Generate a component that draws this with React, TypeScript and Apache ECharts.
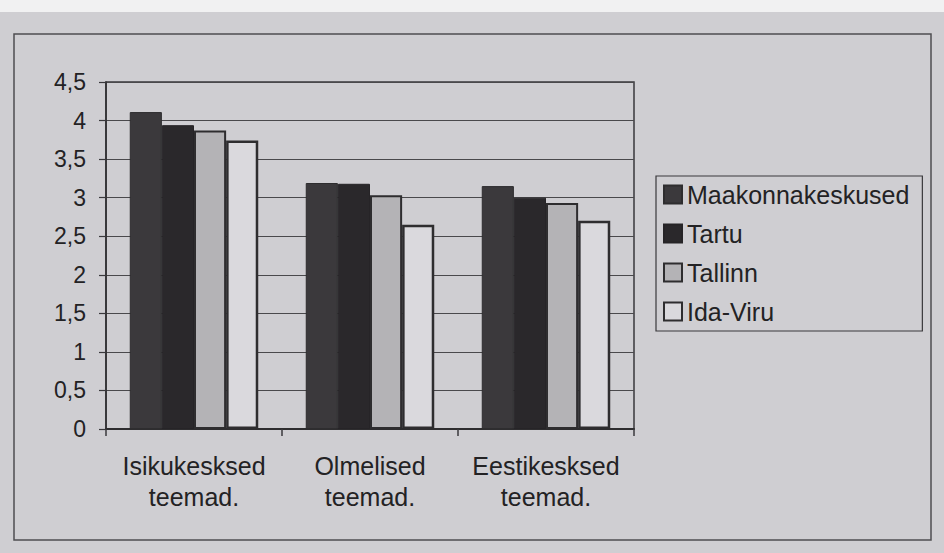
import React, { useEffect, useRef } from "react";
import * as echarts from "echarts";

const categories = ["Isikukesksed\nteemad.", "Olmelised\nteemad.", "Eestikesksed\nteemad."];
const seriesNames = ["Maakonnakeskused", "Tartu", "Tallinn", "Ida-Viru"];
const maakonnakeskused = [4.11, 3.19, 3.15];
const tartu = [3.94, 3.18, 3.0];
const tallinn = [3.87, 3.03, 2.93];
const idaViru = [3.74, 2.65, 2.7];
const yTicks = { min: 0, max: 4.5, interval: 0.5 };

const seriesValues = [maakonnakeskused, tartu, tallinn, idaViru];
const fills = ["#3b393c", "#2a282b", "#b4b3b6", "#dad9dd"];
const borders = ["#2e2d2f", "#262427", "#2e2d2f", "#2e2d2f"];
const borderWidths = [1, 1, 2, 2.5];

export default function App() {
  const ref = useRef<HTMLDivElement>(null);
  useEffect(() => {
    if (!ref.current) return;
    const chart = echarts.init(ref.current, undefined, { renderer: "svg" });
    const font = "'Liberation Sans', Arial, sans-serif";
    const textColor = "#232224";
    chart.setOption({
      animation: false,
      backgroundColor: "#cfced2",
      textStyle: { fontFamily: font },
      graphic: [
        { type: "rect", shape: { x: 0, y: 0, width: 944, height: 12 }, style: { fill: "#f1f1f2" }, silent: true },
        {
          type: "rect",
          shape: { x: 14, y: 34, width: 917, height: 506 },
          style: { fill: "none", stroke: "#4f4e51", lineWidth: 1.5 },
          silent: true,
        },
      ],
      grid: {
        left: 106,
        right: 310,
        top: 82,
        bottom: 124,
        show: true,
        borderColor: "#3a393c",
        borderWidth: 1.5,
        backgroundColor: "transparent",
      },
      legend: {
        orient: "vertical",
        left: 656,
        top: 176,
        padding: [6, 13, 7, 7],
        icon: "rect",
        itemWidth: 18,
        itemHeight: 18,
        itemGap: 14,
        itemTextGap: 6,
        borderColor: "#3a393c",
        borderWidth: 1.2,
        data: seriesNames,
        textStyle: { fontSize: 25, lineHeight: 25, color: textColor, fontFamily: font },
      },
      xAxis: {
        type: "category",
        data: categories,
        axisLine: { show: true, lineStyle: { color: "#2e2d2f", width: 2 } },
        axisTick: { show: true, alignWithLabel: false, interval: 0, length: 7, lineStyle: { color: "#3a393c", width: 1.5 } },
        axisLabel: {
          interval: 0,
          fontSize: 25,
          lineHeight: 31,
          margin: 21,
          color: textColor,
          fontFamily: font,
        },
        splitLine: { show: false },
      },
      yAxis: {
        type: "value",
        min: yTicks.min,
        max: yTicks.max,
        interval: yTicks.interval,
        axisLine: { show: true, lineStyle: { color: "#2e2d2f", width: 1.5 } },
        axisTick: { show: true, length: 7, lineStyle: { color: "#3a393c", width: 1.2 } },
        axisLabel: {
          fontSize: 23,
          margin: 20,
          color: textColor,
          fontFamily: font,
          formatter: (v: number) => String(v).replace(".", ","),
        },
        splitLine: { show: true, lineStyle: { color: "#4a494c", width: 1.2 } },
      },
      series: seriesNames.map((name, i) => ({
        name,
        type: "bar",
        data: seriesValues[i],
        barGap: "0%",
        barCategoryGap: "27%",
        itemStyle: { color: fills[i], borderColor: borders[i], borderWidth: borderWidths[i] },
      })),
    });
    return () => chart.dispose();
  }, []);
  return (
    <div
      ref={ref}
      style={{ position: "fixed", left: 0, top: 0, width: 944, height: 553 }}
    />
  );
}
